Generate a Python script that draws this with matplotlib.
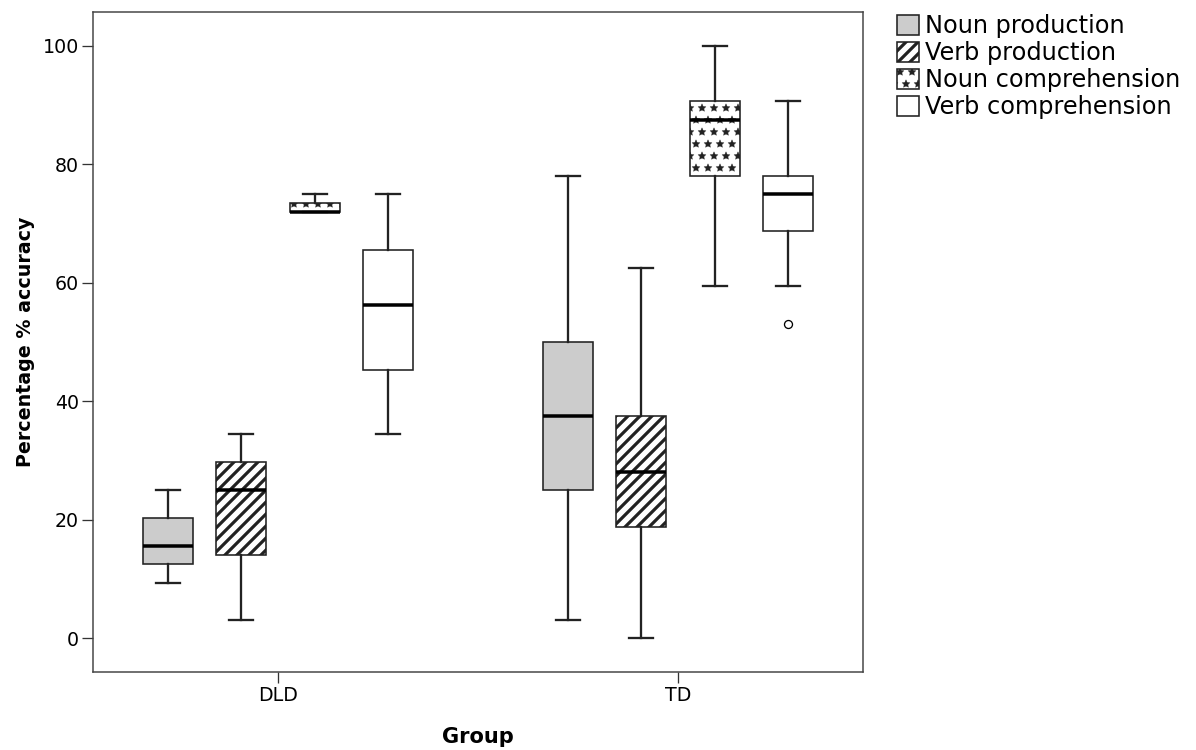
import matplotlib
matplotlib.use("Agg")
import matplotlib.pyplot as plt
from matplotlib.patches import Patch

# groups on the x axis
groups = ["DLD", "TD"]
tasks = ["Noun production", "Verb production", "Noun comprehension", "Verb comprehension"]

# five-number summaries: [low whisker, Q1, median, Q3, high whisker]
dld_noun_prod = [9.4, 12.5, 15.6, 20.3, 25.0]
dld_verb_prod = [3.1, 14.0, 25.0, 29.7, 34.4]
dld_noun_comp = [71.9, 71.9, 71.9, 73.4, 75.0]
dld_verb_comp = [34.4, 45.3, 56.3, 65.6, 75.0]

td_noun_prod = [3.1, 25.0, 37.5, 50.0, 78.1]
td_verb_prod = [0.0, 18.75, 28.1, 37.5, 62.5]
td_noun_comp = [59.4, 78.1, 87.5, 90.6, 100.0]
td_verb_comp = [59.4, 68.8, 75.0, 78.1, 90.6]
td_verb_comp_outliers = [53.1]

summaries = [
    [dld_noun_prod, dld_verb_prod, dld_noun_comp, dld_verb_comp],
    [td_noun_prod, td_verb_prod, td_noun_comp, td_verb_comp],
]
outliers = [[[], [], [], []], [[], [], [], td_verb_comp_outliers]]

faces = ["#cccccc", "white", "white", "white"]
hatches = [None, "//", "*", None]
hatch_lw = [1.0, 3.2, 0.4, 1.0]

plt.rcParams["font.family"] = "DejaVu Sans"
plt.rcParams["hatch.color"] = "black"

# dpi 72 so 1 pt == 1 px
fig = plt.figure(figsize=(1196 / 72, 750 / 72), dpi=72)
ax = fig.add_axes([93 / 1196, 78 / 750, 770 / 1196, 660 / 750])

spacing = 0.1833
offsets = [-1.5 * spacing, -0.5 * spacing, 0.5 * spacing, 1.5 * spacing]
box_w = 0.125


def set_hlw(patch, lw):
    # per-patch hatch width (newer matplotlib), otherwise rcParams does it
    if hasattr(patch, "set_hatch_linewidth"):
        patch.set_hatch_linewidth(lw)


for gi in range(len(groups)):
    for ti in range(len(tasks)):
        lo, q1, med, q3, hi = summaries[gi][ti]
        stats = [dict(whislo=lo, q1=q1, med=med, q3=q3, whishi=hi, fliers=outliers[gi][ti])]
        plt.rcParams["hatch.linewidth"] = hatch_lw[ti]
        res = ax.bxp(stats, positions=[gi + offsets[ti]], widths=box_w,
                     capwidths=0.06, patch_artist=True, manage_ticks=False,
                     boxprops=dict(facecolor=faces[ti], edgecolor="#222222", linewidth=1.6),
                     whiskerprops=dict(color="#222222", linewidth=2.3),
                     capprops=dict(color="#222222", linewidth=2.3),
                     medianprops=dict(color="black", linewidth=3.5),
                     flierprops=dict(marker="o", markerfacecolor="white",
                                     markeredgecolor="black", markersize=8,
                                     markeredgewidth=1.3))
        if hatches[ti]:
            res["boxes"][0].set_hatch(hatches[ti])
            set_hlw(res["boxes"][0], hatch_lw[ti])

ax.set_xlim(-0.4625, 1.4625)
ax.set_ylim(-5.7, 105.7)
ax.set_xticks(range(len(groups)))
ax.set_xticklabels(groups)
ax.set_yticks([0, 20, 40, 60, 80, 100])
ax.tick_params(axis="both", labelsize=19, length=11, width=1.3, color="#333333", pad=3)
for s in ax.spines.values():
    s.set_color("#444444")
    s.set_linewidth(1.5)

ax.set_xlabel("Group", fontsize=21, fontweight="bold", labelpad=22)
ax.set_ylabel("Percentage % accuracy", fontsize=19, fontweight="bold", labelpad=8)

handles = []
for ti in range(len(tasks)):
    h = Patch(facecolor=faces[ti], edgecolor="#222222", linewidth=1.6,
              hatch=hatches[ti], label=tasks[ti])
    handles.append(h)
leg = fig.legend(handles=handles, loc="upper left", bbox_to_anchor=(897 / 1196, 1 - 14 / 750),
                 frameon=False, fontsize=24, handlelength=0.92, handleheight=0.88,
                 handletextpad=0.25, labelspacing=0.13, borderpad=0, borderaxespad=0)
for p, lw in zip(leg.get_patches(), hatch_lw):
    set_hlw(p, lw)

fig.savefig("out.png", dpi=72)
